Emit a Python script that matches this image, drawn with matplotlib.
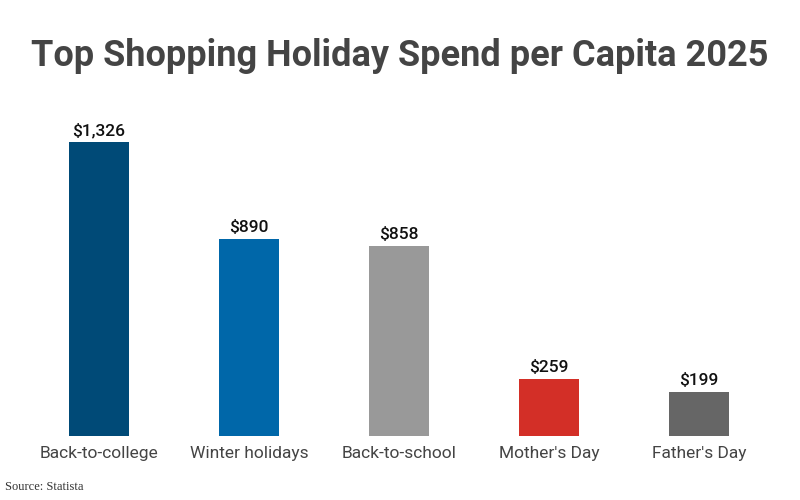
import matplotlib
matplotlib.use("Agg")
import matplotlib.pyplot as plt

# data
categorias = ["Back-to-college", "Winter holidays", "Back-to-school", "Mother's Day", "Father's Day"]
gastos = [1326, 890, 858, 259, 199]
rotulos = ["$1,326", "$890", "$858", "$259", "$199"]
cores = ["#004a77", "#0067a9", "#999999", "#d32f27", "#666666"]

fig = plt.figure(figsize=(8, 5), dpi=100)
ax = fig.add_axes([0.03, 0.128, 0.9375, 0.652])

x = range(len(categorias))
barras = ax.bar(x, gastos, color=cores, width=0.4)

for b, r in zip(barras, rotulos):
    ax.text(b.get_x() + b.get_width() / 2, b.get_height() + 16, r,
            ha="center", va="bottom", fontsize=12.5, family="Roboto",
            fontweight="medium", color="#111111")

ax.set_xlim(-0.5, 4.5)
ax.set_ylim(0, 1470)
ax.set_xticks(list(x))
ax.set_xticklabels(categorias, fontsize=12.5, family="Roboto", color="#444444")
ax.tick_params(axis="x", length=0, pad=7)
ax.set_yticks([])
for s in ax.spines.values():
    s.set_visible(False)

fig.text(0.5, 0.888, "Top Shopping Holiday Spend per Capita 2025", ha="center",
         va="center", fontsize=26, family="Roboto", fontweight="bold", color="#444444")
fig.text(0.006, 0.027, "Source: Statista", ha="left", va="center", fontsize=9,
         family="Liberation Serif", color="#333333")

fig.savefig("out.png", dpi=100)
